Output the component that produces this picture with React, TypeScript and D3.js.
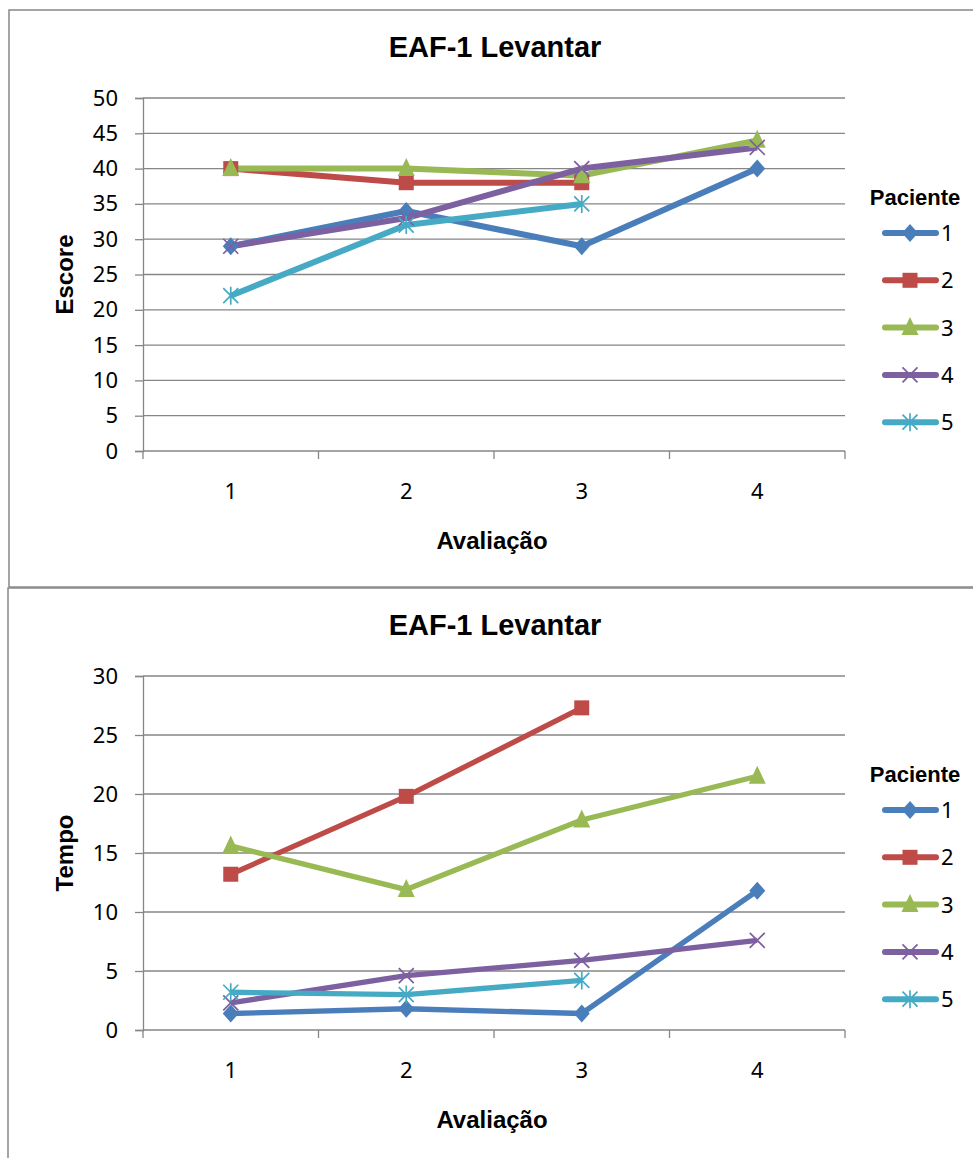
import React, { useRef, useEffect } from "react";
import * as d3 from "d3";

const categories = ["1", "2", "3", "4"];
const patients = ["1", "2", "3", "4", "5"];
const colors = ["#4A7EBB", "#BE4B48", "#98B954", "#7D60A0", "#46AAC5"];
const markers = ["diamond", "square", "triangle", "x", "star"];

// Escore per patient (null = no evaluation)
const escore1 = [29, 34, 29, 40];
const escore2 = [40, 38, 38, null];
const escore3 = [40, 40, 39, 44];
const escore4 = [29, 33, 40, 43];
const escore5 = [22, 32, 35, null];

// Tempo per patient
const tempo1 = [1.4, 1.8, 1.4, 11.8];
const tempo2 = [13.2, 19.8, 27.3, null];
const tempo3 = [15.6, 11.9, 17.8, 21.5];
const tempo4 = [2.3, 4.6, 5.9, 7.6];
const tempo5 = [3.2, 3.0, 4.2, null];

const escoreTicks = [0, 5, 10, 15, 20, 25, 30, 35, 40, 45, 50];
const tempoTicks = [0, 5, 10, 15, 20, 25, 30];

const boldFont = "Liberation Sans, Arial, sans-serif";
const tickFont = "Noto Sans, Open Sans, sans-serif";

function drawMarker(g, type, x, y, color) {
  const s = 7.5;
  if (type === "diamond") {
    g.append("path")
      .attr("d", `M${x},${y - s - 1.5}L${x + s + 0.5},${y}L${x},${y + s + 1.5}L${x - s - 0.5},${y}Z`)
      .attr("fill", color);
  } else if (type === "square") {
    g.append("rect")
      .attr("x", x - s).attr("y", y - s)
      .attr("width", 2 * s).attr("height", 2 * s)
      .attr("fill", color);
  } else if (type === "triangle") {
    g.append("path")
      .attr("d", `M${x},${y - s - 3}L${x + s + 1},${y + s}L${x - s - 1},${y + s}Z`)
      .attr("fill", color);
  } else if (type === "x") {
    g.append("path")
      .attr("d", `M${x - s},${y - s}L${x + s},${y + s}M${x - s},${y + s}L${x + s},${y - s}`)
      .attr("stroke", color).attr("stroke-width", 1.7);
  } else {
    g.append("path")
      .attr("d", `M${x - s},${y - s}L${x + s},${y + s}M${x - s},${y + s}L${x + s},${y - s}M${x},${y - s - 1.5}L${x},${y + s + 1.5}`)
      .attr("stroke", color).attr("stroke-width", 1.7);
  }
}

function drawChart(svg, { top, title, yLabel, series, ticks, yMax, plotTop, plotBottom, legTop, lineWidth }) {
  const g = svg.append("g").attr("transform", `translate(0,${top})`);
  const plotLeft = 143, plotRight = 845;

  const x = d3.scaleBand().domain(categories).range([plotLeft, plotRight]);
  const y = d3.scaleLinear().domain([0, yMax]).range([plotBottom, plotTop]);

  // Title
  g.append("text")
    .attr("x", 495).attr("y", plotTop - 41)
    .attr("text-anchor", "middle")
    .attr("font-family", boldFont).attr("font-weight", "bold").attr("font-size", 29)
    .text(title);

  // Gridlines
  g.append("g")
    .selectAll("line")
    .data(ticks.filter(t => t > 0))
    .join("line")
    .attr("x1", plotLeft).attr("x2", plotRight)
    .attr("y1", d => y(d)).attr("y2", d => y(d))
    .attr("stroke", "#868686").attr("stroke-width", 1.3);

  // Y axis
  g.append("g")
    .attr("transform", `translate(${plotLeft},0)`)
    .call(d3.axisLeft(y).tickValues(ticks).tickSize(8).tickPadding(17))
    .call(a => a.selectAll("line, path").attr("stroke", "#868686").attr("stroke-width", 1.3))
    .call(a => a.selectAll("text").attr("font-family", tickFont).attr("font-size", 22).attr("fill", "#000"));

  // X axis
  const xAxis = g.append("g").attr("transform", `translate(0,${plotBottom})`);
  xAxis.append("line")
    .attr("x1", plotLeft).attr("x2", plotRight)
    .attr("stroke", "#868686").attr("stroke-width", 1.3);
  xAxis.selectAll("line.tick")
    .data(categories.concat(["end"]))
    .join("line")
    .attr("class", "tick")
    .attr("x1", (d, i) => plotLeft + i * x.bandwidth())
    .attr("x2", (d, i) => plotLeft + i * x.bandwidth())
    .attr("y1", 0).attr("y2", 8)
    .attr("stroke", "#868686").attr("stroke-width", 1.3);
  xAxis.selectAll("text")
    .data(categories)
    .join("text")
    .attr("x", d => x(d) + x.bandwidth() / 2)
    .attr("y", 48)
    .attr("text-anchor", "middle")
    .attr("font-family", tickFont).attr("font-size", 22)
    .text(d => d);

  // Axis titles
  g.append("text")
    .attr("x", 492).attr("y", plotBottom + 98)
    .attr("text-anchor", "middle")
    .attr("font-family", boldFont).attr("font-weight", "bold").attr("font-size", 24)
    .text("Avaliação");
  g.append("text")
    .attr("transform", `translate(73,${(plotTop + plotBottom) / 2}) rotate(-90)`)
    .attr("text-anchor", "middle")
    .attr("font-family", boldFont).attr("font-weight", "bold").attr("font-size", 24)
    .text(yLabel);

  // Lines and markers
  const line = d3.line()
    .defined(d => d != null)
    .x((d, i) => x(categories[i]) + x.bandwidth() / 2)
    .y(d => y(d));

  series.forEach((vals, si) => {
    g.append("path")
      .datum(vals)
      .attr("d", line)
      .attr("fill", "none")
      .attr("stroke", colors[si])
      .attr("stroke-width", lineWidth)
      .attr("stroke-linejoin", "round");
  });
  series.forEach((vals, si) => {
    const mg = g.append("g");
    vals.forEach((v, i) => {
      if (v == null) return;
      drawMarker(mg, markers[si], x(categories[i]) + x.bandwidth() / 2, y(v), colors[si]);
    });
  });

  // Legend
  g.append("text")
    .attr("x", 915).attr("y", legTop + 9)
    .attr("text-anchor", "middle")
    .attr("font-family", boldFont).attr("font-weight", "bold").attr("font-size", 22)
    .text("Paciente");
  const spacing = 47.3;
  patients.forEach((p, i) => {
    const ly = legTop + 37 + i * spacing;
    const lg = g.append("g");
    lg.append("line")
      .attr("x1", 885).attr("x2", 936)
      .attr("y1", ly).attr("y2", ly)
      .attr("stroke", colors[i]).attr("stroke-width", 6)
      .attr("stroke-linecap", "round");
    drawMarker(lg, markers[i], 910, ly, colors[i]);
    lg.append("text")
      .attr("x", 941).attr("y", ly + 8)
      .attr("font-family", tickFont).attr("font-size", 22)
      .text(p);
  });
}

export default function App() {
  const svgRef = useRef(null);

  useEffect(() => {
    const svg = d3.select(svgRef.current);
    svg.selectAll("*").remove();

    svg.append("rect")
      .attr("width", 973).attr("height", 1158).attr("fill", "#fff");

    // Chart borders
    svg.append("rect")
      .attr("x", 9).attr("y", 10).attr("width", 990).attr("height", 577)
      .attr("fill", "none").attr("stroke", "#888").attr("stroke-width", 1.5);
    svg.append("rect")
      .attr("x", 8).attr("y", 588).attr("width", 990).attr("height", 600)
      .attr("fill", "none").attr("stroke", "#888").attr("stroke-width", 1.5);

    drawChart(svg, {
      top: 0,
      title: "EAF-1 Levantar",
      yLabel: "Escore",
      series: [escore1, escore2, escore3, escore4, escore5],
      ticks: escoreTicks,
      yMax: 50,
      plotTop: 98,
      plotBottom: 451,
      legTop: 196,
      lineWidth: 6,
    });
    drawChart(svg, {
      top: 588,
      title: "EAF-1 Levantar",
      yLabel: "Tempo",
      series: [tempo1, tempo2, tempo3, tempo4, tempo5],
      ticks: tempoTicks,
      yMax: 30,
      plotTop: 88,
      plotBottom: 442,
      legTop: 185,
      lineWidth: 5.3,
    });
  }, []);

  return (
    <svg
      ref={svgRef}
      width={973}
      height={1158}
      style={{ position: "absolute", left: 0, top: 0 }}
    />
  );
}
